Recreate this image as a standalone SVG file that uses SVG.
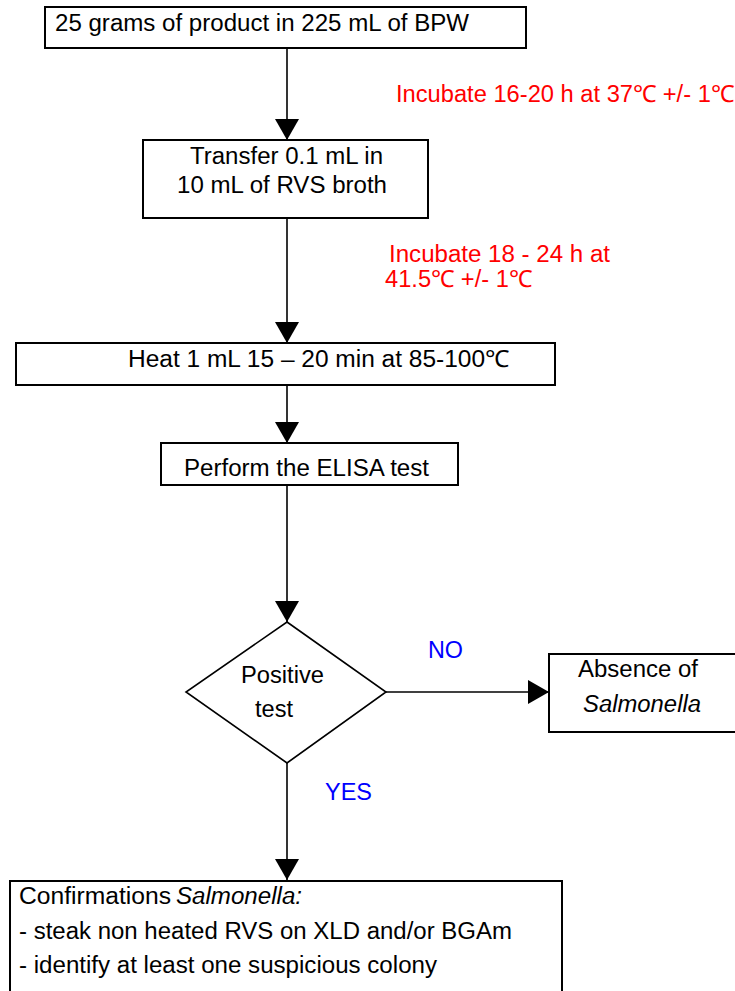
<svg xmlns="http://www.w3.org/2000/svg" width="735" height="991" viewBox="0 0 735 991">
<style>
.box{fill:#fff;stroke:#000;stroke-width:2}
.ln{stroke:#000;stroke-width:1.6;fill:none}
text{font-family:"Liberation Sans",Arial,sans-serif;font-size:23.5px;fill:#000}
.red{fill:#FF0000}
.blue{fill:#0000FF}
.it{font-style:italic}
</style>
<defs>
<marker id="ah" markerUnits="userSpaceOnUse" markerWidth="22" markerHeight="24" refX="21" refY="12" orient="auto" viewBox="0 0 22 24">
<path d="M0,0 L21,12 L0,24 z" fill="#000"/>
</marker>
</defs>
<rect width="735" height="991" fill="#fff"/>
<g id="connectors">
<line class="ln" x1="287" y1="48" x2="287" y2="140" marker-end="url(#ah)"/>
<line class="ln" x1="287" y1="218" x2="287" y2="343" marker-end="url(#ah)"/>
<line class="ln" x1="287" y1="385" x2="287" y2="443" marker-end="url(#ah)"/>
<line class="ln" x1="287" y1="485" x2="287" y2="622" marker-end="url(#ah)"/>
<line class="ln" x1="386" y1="692" x2="549" y2="692" marker-end="url(#ah)"/>
<line class="ln" x1="287" y1="763" x2="287" y2="880" marker-end="url(#ah)"/>
<text class="red" x="396" y="102" textLength="338" lengthAdjust="spacingAndGlyphs">Incubate 16-20 h at 37℃ +/- 1℃</text>
<text class="red" x="389" y="262" textLength="221" lengthAdjust="spacingAndGlyphs">Incubate 18 - 24 h at</text>
<text class="red" x="385" y="287" textLength="147" lengthAdjust="spacingAndGlyphs">41.5℃ +/- 1℃</text>
<text class="blue" x="428" y="658" textLength="35" lengthAdjust="spacingAndGlyphs">NO</text>
<text class="blue" x="325" y="800" textLength="47" lengthAdjust="spacingAndGlyphs">YES</text>
</g>
<g id="n1">
<rect class="box" x="45" y="7" width="481" height="41"/>
<text x="55" y="31" textLength="414" lengthAdjust="spacingAndGlyphs">25 grams of product in 225 mL of BPW</text>
</g>
<g id="n2">
<rect class="box" x="143" y="140" width="285" height="78"/>
<text x="190" y="164" textLength="193" lengthAdjust="spacingAndGlyphs">Transfer 0.1 mL in</text>
<text x="177" y="193" textLength="210" lengthAdjust="spacingAndGlyphs">10 mL of RVS broth</text>
</g>
<g id="n3">
<rect class="box" x="16" y="343" width="539" height="42"/>
<text x="128" y="367" textLength="381" lengthAdjust="spacingAndGlyphs">Heat 1 mL 15 – 20 min at  85-100℃</text>
</g>
<g id="n4">
<rect class="box" x="161" y="443" width="297" height="42"/>
<text x="184" y="476" textLength="245" lengthAdjust="spacingAndGlyphs">Perform the ELISA test</text>
</g>
<g id="n5">
<polygon class="box" points="287,622 386,692 287,763 186,692" style="stroke-width:1.6"/>
<text x="241" y="683" textLength="83" lengthAdjust="spacingAndGlyphs">Positive</text>
<text x="255" y="717" textLength="38" lengthAdjust="spacingAndGlyphs">test</text>
</g>
<g id="n6">
<rect class="box" x="549" y="654" width="200" height="78"/>
<text x="578" y="677" textLength="120" lengthAdjust="spacingAndGlyphs">Absence of</text>
<text class="it" x="583" y="712" textLength="118" lengthAdjust="spacingAndGlyphs">Salmonella</text>
</g>
<g id="n7">
<rect class="box" x="10" y="881" width="552" height="120"/>
<text x="19" y="904" textLength="152" lengthAdjust="spacingAndGlyphs">Confirmations</text>
<text class="it" x="176" y="904" textLength="126" lengthAdjust="spacingAndGlyphs">Salmonella:</text>
<text x="19" y="939" textLength="493" lengthAdjust="spacingAndGlyphs">- steak non heated RVS on XLD and/or BGAm</text>
<text x="19" y="973" textLength="418" lengthAdjust="spacingAndGlyphs">- identify at least one suspicious colony</text>
</g>
</svg>
